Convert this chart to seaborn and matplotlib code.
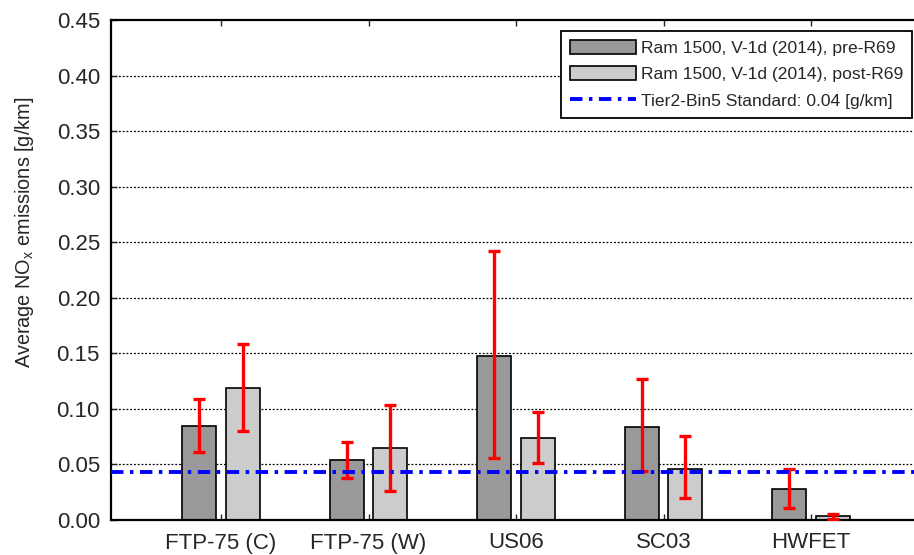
import numpy as np
import pandas as pd
import matplotlib
matplotlib.use("Agg")
import matplotlib.pyplot as plt
import seaborn as sns
from matplotlib.patches import Patch
from matplotlib.lines import Line2D

# Test cycles and the two vehicle configurations
cycles = ["FTP-75 (C)", "FTP-75 (W)", "US06", "SC03", "HWFET"]
series = ["Ram 1500, V-1d (2014), pre-R69", "Ram 1500, V-1d (2014), post-R69"]

# Average NOx [g/km] per cycle
pre_mean = [0.0845, 0.054, 0.148, 0.084, 0.028]
post_mean = [0.119, 0.065, 0.074, 0.046, 0.0035]

# Error bar limits (low / high) [g/km]
pre_low = [0.0615, 0.038, 0.0555, 0.0445, 0.0105]
pre_high = [0.109, 0.070, 0.2425, 0.1265, 0.0455]
post_low = [0.080, 0.0265, 0.051, 0.0195, 0.0010]
post_high = [0.158, 0.1035, 0.0975, 0.0760, 0.0058]

# Tier2-Bin5 standard (0.07 g/mi)
standard = 0.0435
standard_label = "Tier2-Bin5 Standard: 0.04 [g/km]"

sns.set_theme(style="white")
plt.rcParams["font.family"] = ["Liberation Sans", "DejaVu Sans"]
plt.rcParams["mathtext.fontset"] = "custom"
plt.rcParams["mathtext.rm"] = "Liberation Sans"
plt.rcParams["mathtext.it"] = "Liberation Sans"

df = pd.DataFrame({
    "cycle": cycles * 2,
    "series": [series[0]] * len(cycles) + [series[1]] * len(cycles),
    "value": pre_mean + post_mean,
})

colors = ["#999999", "#cccccc"]
std_lw = 2.8
dash_pattern = (3.2, 1.67, 0.9, 1.67)

fig = plt.figure(figsize=(9.14, 5.55), dpi=100)
ax = fig.add_axes([111 / 914, 1 - 520 / 555, 1 - 111 / 914, (520 - 20) / 555])

sns.barplot(data=df, x="cycle", y="value", hue="series", order=cycles,
            hue_order=series, palette=colors, width=0.59, gap=0.21,
            edgecolor="black", linewidth=1.2, errorbar=None, legend=False,
            saturation=1, ax=ax)

# Red min/max bars at the centre of each bar
x = np.arange(len(cycles))
offset = 0.1475
for xs, mean, lo, hi in [(x - offset, pre_mean, pre_low, pre_high),
                         (x + offset, post_mean, post_low, post_high)]:
    mean = np.array(mean)
    yerr = np.vstack([mean - np.array(lo), np.array(hi) - mean])
    ax.errorbar(xs, mean, yerr=yerr, fmt="none", ecolor="red",
                elinewidth=2.4, capsize=4.5, capthick=2.4, zorder=4)

ax.axhline(standard, color="blue", lw=std_lw, dashes=dash_pattern, zorder=5)

ax.set_xlim(-0.746, 4.698)
ax.set_ylim(0, 0.45)
ax.set_yticks(np.arange(0, 0.451, 0.05))
ax.set_yticklabels([f"{v:.2f}" for v in np.arange(0, 0.451, 0.05)])
ax.set_xticks(x)
ax.set_xticklabels(cycles)
ax.set_xlabel("")
ax.set_ylabel("Average NO$_x$ emissions [g/km]", fontsize=14.3)
ax.yaxis.set_label_coords(-0.094, 0.576)

for yv in np.arange(0.05, 0.449, 0.05):
    ax.axhline(yv, color="black", lw=0.9, ls=(0, (1.5, 1.5)), zorder=0.5)

ax.tick_params(axis="both", direction="in", length=4, width=1, labelsize=16,
               top=True, bottom=True, left=True, right=False)
ax.tick_params(axis="x", pad=9)
ax.tick_params(axis="y", pad=8)
for side in ["left", "bottom", "top"]:
    ax.spines[side].set_visible(True)
    ax.spines[side].set_color("black")
    ax.spines[side].set_linewidth(1.6)
ax.spines["right"].set_visible(False)

handles = [Patch(facecolor=colors[0], edgecolor="black", lw=1.2),
           Patch(facecolor=colors[1], edgecolor="black", lw=1.2),
           Line2D([], [], color="blue", lw=std_lw, dashes=dash_pattern)]
leg = ax.legend(handles, series + [standard_label], loc="upper right",
                bbox_to_anchor=(0.9975, 0.978), fontsize=12.6, frameon=True,
                fancybox=False, edgecolor="black", framealpha=1,
                handlelength=3.8, handleheight=0.85, handletextpad=0.25,
                borderpad=0.5, labelspacing=0.6, borderaxespad=0)
leg.get_frame().set_linewidth(1.3)

fig.savefig("out.png", dpi=100)
